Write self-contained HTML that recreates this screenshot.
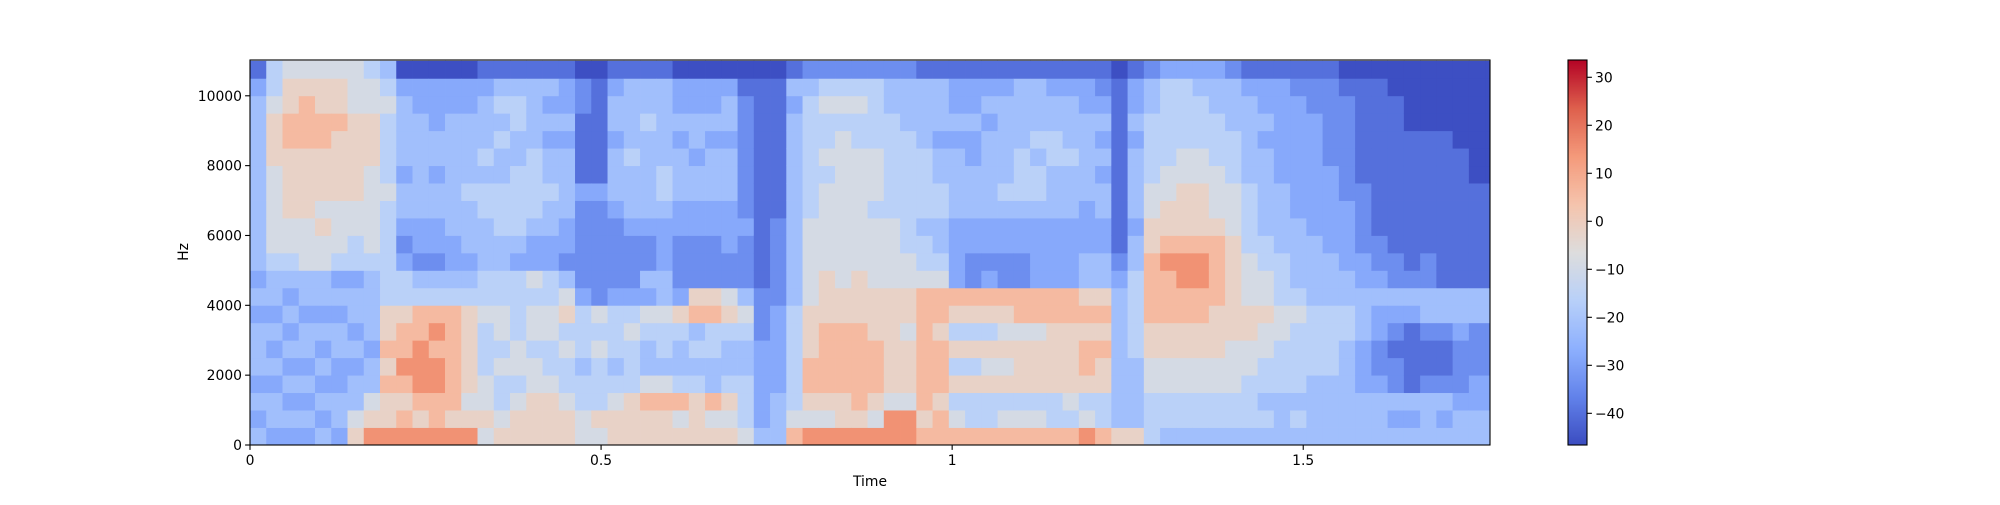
<!DOCTYPE html>
<html><head><meta charset="utf-8"><style>
html,body{margin:0;padding:0;background:#fff;}
svg text{font-family:"DejaVu Sans","Liberation Sans",sans-serif;font-size:13.9px;fill:#000;}
</style></head><body>
<svg id="fig" width="2000" height="500" viewBox="0 0 2000 500" xmlns="http://www.w3.org/2000/svg">
<rect x="0" y="0" width="2000" height="500" fill="#fff"/>
<defs><clipPath id="plotclip"><rect x="250" y="60" width="1240" height="385"/></clipPath></defs>
<g id="cells" clip-path="url(#plotclip)"></g>
<rect x="250" y="60" width="1240" height="385" fill="none" stroke="#000" stroke-width="1.1"/>
<g id="xaxis"></g>
<g id="yaxis"></g>
<text x="870" y="486" text-anchor="middle">Time</text>
<text x="0" y="0" text-anchor="middle" transform="translate(188,252) rotate(-90)">Hz</text>
<g id="cbar"></g>
</svg>
<script>
const timeTicks = [0, 0.5, 1, 1.5];
const timeTickLabels = ["0", "0.5", "1", "1.5"];
const hzTicks = [0, 2000, 4000, 6000, 8000, 10000];
const cbarTicks = [30, 20, 10, 0, -10, -20, -30, -40];
const levelDb = [-46, -40, -34, -28, -22, -16, -9, -2, 6, 15, 24];
const bandHz = 500;
const visibleFrames = 76.3;
const maxHz = 11025;
const maxTime = 1.766;
const dbMin = -46.6, dbMax = 33.6;
// one string per frame; char i = level of frequency band i (0 = lowest)
const frames = [
"4343444343444444444431","3443434344566666777655","3434343434566777788776","3434344344666777788876",
"4343434344667677788776","3443344343566677778776","7644343443556677777666","9764434444566666777665",
"9778787755555565555654","9878988755323443444430","9789998854233444444330","9889989854233443443330",
"9788888854334444444330","9767777754344454444330","6766555655444554544431","7655656655445554454541",
"7765665555345555445541","7776656656334555544441","7776556655334454434341","7765565764233444434331",
"6655455532222231111220","6755565622222231111110","7765455532222344434431","7775556532223444544441",
"7786445634223444445441","7786455644333455444441","7685445732223344434330","7775454872223344344330",
"7684455872223344434330","7675445762233344434430","6555445642223222222210","4333332221111111111110",
"4443333322222111111110","8655555544444444444341","9678877766666555555542","9678888777666665655652",
"9778888776666666665652","9788888777666666655652","9678887776666566655552","9967777776666555555442",
"9967776776655555554442","8788888886554555544441","8878887886544554434441","8657575783333444434331",
"8557575782233444334331","8557675783233444443431","8657676782233454444431","8657776882233455544441",
"8657776883333455454441","8557777883333444554431","8567777883333444544431",
"9657887874433344444331","8557787874433443434321","7444444443211111111110","7444455555443444434331",
"5556677888877665555442","4556677888987766555553","4556677889987776655553","4556677889987776655543",
"4556677788887666555443","4556667777776665554442","4555667766655554444431","4545566766554444434331",
"4445556655544443333331","4545555654444333333321","4444555544443333333221","4444555544433333222221",
"4444445544333322222210","4443334443322221111110","4443223343221111111110","4342212342211111111100",
"4341111342111111110000","4442112442211111110000","4342112441111111110000","4432223441111111100000",
"4433222441111110000000","4433222441111110000000"
];

const X0 = 250, X1 = 1490, Y0 = 60, Y1 = 445;
const NS = 'http://www.w3.org/2000/svg';
function xScale(t){ return X0 + t / maxTime * (X1 - X0); }
function colScale(c){ return X0 + c / visibleFrames * (X1 - X0); }
function yScale(hz){ return Y1 - hz / maxHz * (Y1 - Y0); }
const cmapStops = [[59,76,192],[98,130,234],[141,176,254],[184,208,249],[221,221,221],[245,196,173],[244,154,123],[222,96,77],[180,4,38]];
function cmap(v){
  v = Math.max(0, Math.min(1, v)) * (cmapStops.length - 1);
  const i = Math.min(Math.floor(v), cmapStops.length - 2), f = v - i;
  const a = cmapStops[i], b = cmapStops[i+1];
  return 'rgb(' + [0,1,2].map(k => Math.round(a[k] + (b[k]-a[k]) * f)).join(',') + ')';
}
function dbColor(db){ return cmap((db - dbMin) / (dbMax - dbMin)); }
function mk(tag, attrs, parent){
  const e = document.createElementNS(NS, tag);
  for (const k in attrs) e.setAttribute(k, attrs[k]);
  parent.appendChild(e); return e;
}

const cells = document.getElementById('cells');
frames.forEach((s, c) => {
  const xa = colScale(c), xb = colScale(c + 1);
  for (let b = 0; b < s.length; b++) {
    const lv = parseInt(s[b], 16);
    const ya = yScale(Math.min(maxHz, (b + 1) * bandHz)), yb = yScale(b * bandHz);
    const r = mk('rect', {x: xa.toFixed(2), y: ya.toFixed(2), width: (xb - xa + 0.4).toFixed(2), height: (yb - ya + 0.4).toFixed(2), fill: dbColor(levelDb[lv])}, cells);
    
    
  }
});

const xaxis = document.getElementById('xaxis');
timeTicks.forEach((t, i) => {
  const x = xScale(t);
  const l = mk('line', {x1: x, x2: x, y1: Y1, y2: Y1 + 4.9, stroke: '#000', 'stroke-width': 1.1}, xaxis);
  
  
  const tx = mk('text', {x: x, y: Y1 + 20, 'text-anchor': 'middle'}, xaxis);
  tx.textContent = timeTickLabels[i];
  
  
});
const yaxis = document.getElementById('yaxis');
hzTicks.forEach(h => {
  const y = yScale(h);
  const l = mk('line', {x1: X0 - 4.9, x2: X0, y1: y, y2: y, stroke: '#000', 'stroke-width': 1.1}, yaxis);
  
  
  const tx = mk('text', {x: X0 - 8, y: y + 5, 'text-anchor': 'end'}, yaxis);
  tx.textContent = String(h);
  
  
});

const cbar = document.getElementById('cbar');
const CX0 = 1568, CX1 = 1587;
function cbY(db){ return Y1 - (db - dbMin) / (dbMax - dbMin) * (Y1 - Y0); }
for (let i = 0; i < 385; i++) {
  const db = dbMin + (i + 0.5) / 385 * (dbMax - dbMin);
  const r = mk('rect', {x: CX0, y: (Y1 - i - 1).toFixed(2), width: CX1 - CX0, height: 1.3, fill: dbColor(db)}, cbar);
  
  
}
const cf = mk('rect', {x: CX0, y: Y0, width: CX1 - CX0, height: Y1 - Y0, fill: 'none', stroke: '#000', 'stroke-width': 1.1}, cbar);


cbarTicks.forEach(v => {
  const y = cbY(v);
  const l = mk('line', {x1: CX1, x2: CX1 + 4.9, y1: y, y2: y, stroke: '#000', 'stroke-width': 1.1}, cbar);
  
  
  const tx = mk('text', {x: CX1 + 8, y: y + 5, 'text-anchor': 'start'}, cbar);
  tx.textContent = v < 0 ? '\u2212' + Math.abs(v) : String(v);
  
  
});
</script>
</body></html>
